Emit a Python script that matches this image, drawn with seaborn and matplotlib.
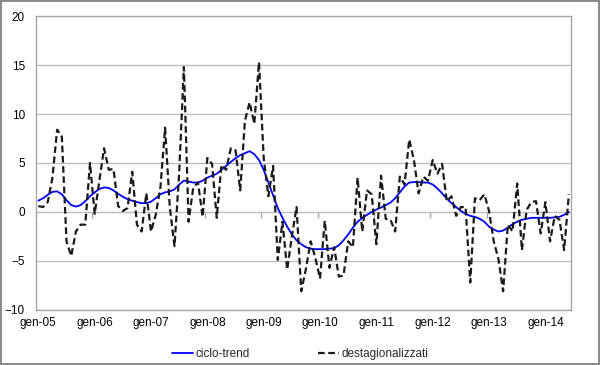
import numpy as np
import pandas as pd
import matplotlib
matplotlib.use("Agg")
import matplotlib.pyplot as plt
import seaborn as sns

# monthly series, gen-05 .. giu-14
destag = [0.6, 0.5, 1.0, 3.5, 8.4, 7.7, -3.0, -4.5, -2.0, -1.3, -1.3, 5.0,
          -0.2, 3.2, 6.5, 4.3, 4.4, 0.6, 0.1, 0.4, 4.1, -1.3, -2.0, 1.9,
          -2.0, -0.3, 2.5, 8.6, 0.5, -3.5, 4.0, 14.8, -1.0, 2.5, 3.0, -0.5,
          5.5, 4.9, -0.6, 4.8, 4.3, 6.5, 6.3, 2.2, 9.3, 11.2, 9.0, 15.3,
          5.5, 1.6, 4.7, -4.9, -1.0, -5.9, -2.5, 0.5, -8.1, -5.8, -3.0, -4.7,
          -6.8, -0.9, -5.7, -3.6, -6.6, -6.5, -3.0, -3.6, 3.5, -2.0, 2.2, 1.8,
          -3.3, 3.7, -0.7, -0.8, -2.0, 3.6, 2.8, 7.4, 5.3, 1.9, 3.6, 3.2,
          5.3, 3.9, 4.9, 1.1, 1.6, -0.4, 0.5, 0.5, -7.2, 1.4, 1.2, 1.8,
          0.1, -3.0, -4.8, -8.1, -1.3, -2.0, 2.9, -3.9, 0.2, 1.0, 1.1, -2.2,
          1.0, -3.0, -0.4, -0.8, -3.9, 1.8]

trend = [1.15, 1.4, 1.75, 2.05, 2.1, 1.8, 1.2, 0.7, 0.55, 0.7, 1.1, 1.6,
         2.0, 2.35, 2.5, 2.45, 2.2, 1.85, 1.55, 1.3, 1.15, 1.0, 0.9, 0.9,
         1.05, 1.4, 1.8, 2.0, 2.1, 2.3, 2.8, 3.2, 3.1, 3.0, 3.0, 3.2,
         3.5, 3.7, 3.9, 4.3, 4.7, 5.1, 5.5, 5.8, 6.0, 6.2, 5.9, 5.3,
         4.3, 3.0, 1.7, 0.4, -0.6, -1.5, -2.3, -2.9, -3.3, -3.6, -3.75, -3.8,
         -3.8, -3.8, -3.75, -3.7, -3.4, -2.9, -2.3, -1.6, -1.0, -0.6, -0.3, 0.0,
         0.25, 0.45, 0.7, 0.95, 1.4, 2.0, 2.6, 3.0, 3.05, 3.05, 3.0, 3.0,
         2.8, 2.4, 1.9, 1.35, 0.9, 0.5, 0.1, -0.2, -0.4, -0.5, -0.7, -1.0,
         -1.5, -1.8, -2.0, -1.9, -1.6, -1.25, -1.0, -0.8, -0.7, -0.6, -0.6, -0.6,
         -0.6, -0.6, -0.55, -0.5, -0.3, 0.0]

year_labels = ["gen-05", "gen-06", "gen-07", "gen-08", "gen-09",
               "gen-10", "gen-11", "gen-12", "gen-13", "gen-14"]

df = pd.DataFrame({"mese": np.arange(len(trend)),
                   "ciclo-trend": trend,
                   "destagionalizzati": destag})

sns.set_style("white")
plt.rcParams["font.family"] = ["Liberation Sans", "DejaVu Sans"]

fig = plt.figure(figsize=(6, 3.65), dpi=100)
ax = fig.add_axes([0.06, 0.151, 0.892, 0.805])

sns.lineplot(data=df, x="mese", y="ciclo-trend", ax=ax, color="#0000ff",
             lw=1.3, label="ciclo-trend")
sns.lineplot(data=df, x="mese", y="destagionalizzati", ax=ax, color="#1a1a1a",
             lw=1.6, label="destagionalizzati", dashes=False)
ax.lines[-1].set_dashes((3, 1.6))

ax.set_xlim(-0.5, len(trend) - 0.5)
ax.set_ylim(-10, 20)
ax.set_yticks(range(-10, 21, 5))
ax.yaxis.grid(True, color="#bfbfbf", lw=1)
ax.set_axisbelow(True)
ax.set_xticks(np.arange(0, len(trend), 12))
ax.set_xticklabels(year_labels)
ax.tick_params(axis="both", length=0, labelsize=8.5, colors="#000000")
ax.tick_params(axis="y", pad=8)
ax.tick_params(axis="x", pad=5)
ax.set_xlabel("")
ax.set_ylabel("")
for s in ax.spines.values():
    s.set_color("#a6a6a6")
    s.set_linewidth(1)

# category axis crossing at zero, with year tick marks
sec = ax.secondary_xaxis(1 / 3)
sec.set_xticks(np.arange(-0.5, len(trend), 12))
sec.set_xticklabels([])
sec.tick_params(length=4, color="#a6a6a6", width=1)
sec.spines["bottom"].set_color("#a6a6a6")

ax.get_legend().remove()
handles, labels = ax.get_legend_handles_labels()
fig.legend(handles, labels, loc="center", bbox_to_anchor=(0.5, 0.03),
           ncol=2, frameon=False, fontsize=8.5, handlelength=1.8,
           handletextpad=0.2, columnspacing=5.8)

fig.patch.set_edgecolor("#8c8c8c")
fig.patch.set_linewidth(1.5)

fig.savefig("out.png", dpi=100, edgecolor=fig.get_edgecolor())
